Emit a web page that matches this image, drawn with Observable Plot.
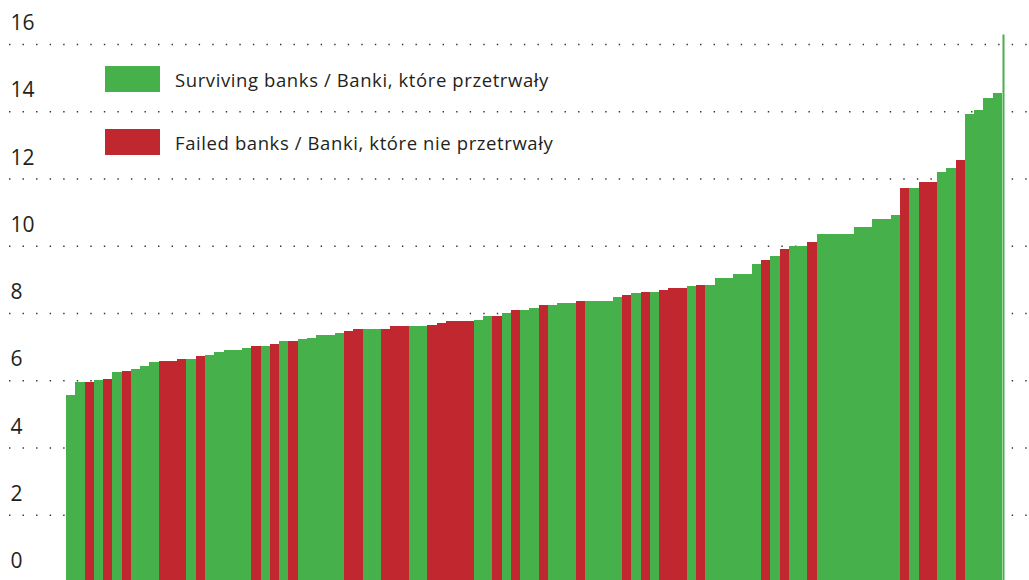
<!DOCTYPE html>
<html>
<head>
<meta charset="utf-8">
<script src="https://cdn.jsdelivr.net/npm/d3@7"></script>
<script src="https://cdn.jsdelivr.net/npm/@observablehq/plot@0.6"></script>
<style>
  body { margin: 0; background: #fff; font-family: "Open Sans", sans-serif; }
  #wrap { position: relative; width: 1029px; height: 580px; overflow: hidden; }
  #wrap svg { display: block; }
  .legend { position: absolute; left: 105px; display: flex; align-items: center; font-size: 18.5px; letter-spacing: 0.6px; color: #231f20; white-space: nowrap; }
  .sw { width: 55px; height: 26px; margin-right: 15px; }
</style>
</head>
<body>
<div id="wrap"></div>
<script>
// Bank values, sorted ascending
const capital = [
  5.57, 5.95, 5.95, 6.01, 6.04, 6.25, 6.28, 6.34, 6.43, 6.55,
  6.58, 6.58, 6.64, 6.64, 6.73, 6.76, 6.85, 6.90, 6.90, 6.96,
  7.02, 7.02, 7.08, 7.17, 7.17, 7.23, 7.26, 7.35, 7.35, 7.41,
  7.47, 7.53, 7.53, 7.53, 7.53, 7.62, 7.62, 7.62, 7.62, 7.65,
  7.71, 7.77, 7.77, 7.77, 7.80, 7.92, 7.92, 8.01, 8.10, 8.10,
  8.15, 8.24, 8.24, 8.30, 8.30, 8.36, 8.36, 8.36, 8.36, 8.48,
  8.54, 8.60, 8.63, 8.63, 8.69, 8.75, 8.75, 8.81, 8.84, 8.84,
  9.05, 9.05, 9.17, 9.17, 9.46, 9.58, 9.70, 9.91, 10.00, 10.00,
  10.12, 10.36, 10.36, 10.36, 10.36, 10.57, 10.57, 10.80, 10.80, 10.92,
  11.73, 11.73, 11.90, 11.90, 12.20, 12.32, 12.56, 13.93, 14.05, 14.40,
  14.55
];
// S = surviving, F = failed
const status = [
  "S","S","F","S","F","S","F","S","S","S",
  "F","F","F","S","F","S","S","S","S","S",
  "F","S","F","S","F","S","S","S","S","S",
  "F","F","S","S","F","F","F","S","S","F",
  "F","F","F","F","S","S","F","S","F","S",
  "S","F","S","S","S","F","S","S","S","S",
  "F","S","F","S","F","F","F","S","F","S",
  "S","S","S","S","S","F","S","F","S","S",
  "F","S","S","S","S","S","S","S","S","S",
  "F","S","F","F","S","S","F","S","S","S",
  "S"
];
// the single top outlier drawn as a thin spike at the right end
const outlier = 16.28;
const gridTicks = [2, 4, 6, 8, 10, 12, 14, 16];
const tickLabels = [0, 2, 4, 6, 8, 10, 12, 14, 16];
const seriesKeys = ["S", "F"];
const seriesNames = ["Surviving banks / Banki, które przetrwały", "Failed banks / Banki, które nie przetrwały"];
const seriesColors = ["#46b04a", "#c1272f"];

const n = capital.length;
const data = capital.map((v, i) => ({i, v, s: status[i]}));

const chart = Plot.plot({
  width: 1029,
  height: 580,
  marginLeft: 0, marginRight: 0, marginTop: 0, marginBottom: 0,
  x: {type: "linear", domain: [0, n], range: [66, 1002], axis: null},
  y: {domain: [0, 16], range: [582, 44], axis: null},
  color: {domain: seriesKeys, range: seriesColors},
  style: {fontFamily: "'Open Sans', sans-serif", background: "#fff"},
  marks: [
    Plot.ruleY(gridTicks, {stroke: "#333", strokeWidth: 1.3, strokeDasharray: "1.4 12.15", strokeDashoffset: 4.55}),
    Plot.rect(data, {x1: d => d.i, x2: d => d.i + 1, y1: 0, y2: "v", fill: "s", shapeRendering: "crispEdges"}),
    Plot.ruleX([outlier], {x: () => n, y1: 0, y2: d => d, stroke: seriesColors[0], strokeWidth: 2, dx: 1}),
    Plot.text(tickLabels, {y: d => d, text: d => String(d), frameAnchor: "left", dx: 10, dy: -21, textAnchor: "start", fontSize: 21, fill: "#231f20"})
  ]
});
const wrap = document.getElementById("wrap");
wrap.appendChild(chart);

const tops = [66, 129];
seriesKeys.forEach((k, j) => {
  const row = document.createElement("div");
  row.className = "legend";
  row.style.top = tops[j] + "px";
  row.style.height = "26px";
  const sw = document.createElement("div");
  sw.className = "sw";
  sw.style.background = seriesColors[j];
  const lab = document.createElement("span");
  lab.textContent = seriesNames[j];
  row.appendChild(sw);
  row.appendChild(lab);
  wrap.appendChild(row);
});
</script>
</body>
</html>
